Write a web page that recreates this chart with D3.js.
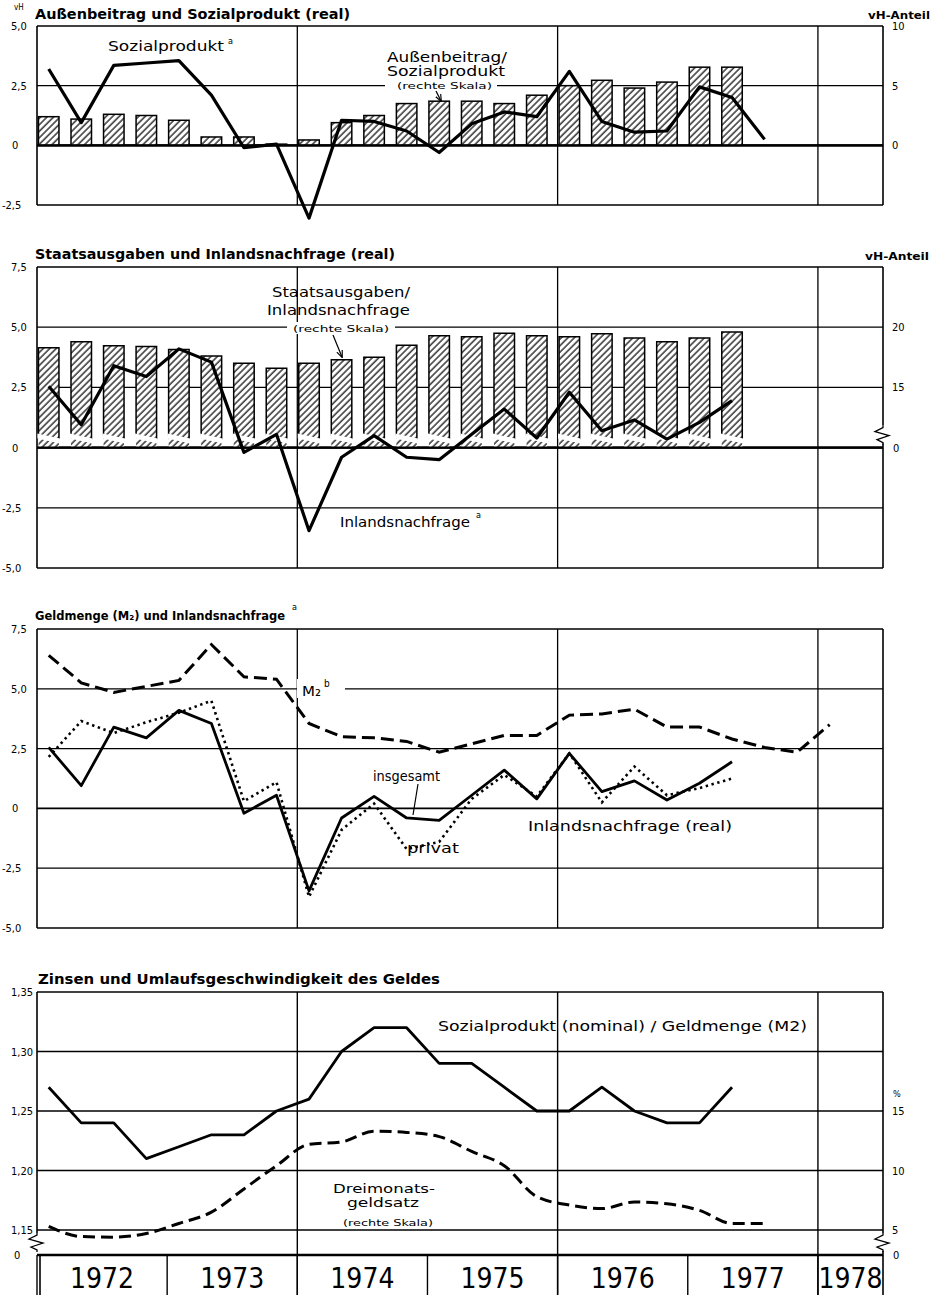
<!DOCTYPE html>
<html><head><meta charset="utf-8">
<script src="https://cdn.jsdelivr.net/npm/d3@7"></script>
<style>body{margin:0;background:#fff}svg{display:block}</style>
</head><body><svg id="c" width="934" height="1295"></svg>
<script>
// ---------- DATA ----------
const quarters = ["1972 I","1972 II","1972 III","1972 IV","1973 I","1973 II","1973 III","1973 IV",
  "1974 I","1974 II","1974 III","1974 IV","1975 I","1975 II","1975 III","1975 IV",
  "1976 I","1976 II","1976 III","1976 IV","1977 I","1977 II","1977 III","1977 IV","1978 I"];
const years = ["1972","1973","1974","1975","1976","1977","1978"];

// Panel 1: Außenbeitrag / Sozialprodukt (vH-Anteil, right scale) and Sozialprodukt (real, vH)
const aussenbeitragAnteil = [2.4,2.2,2.6,2.5,2.1,0.7,0.7,0.1,0.45,1.9,2.5,3.5,3.7,3.7,3.5,4.2,5.0,5.45,4.8,5.3,6.55,6.55];
const sozialprodukt = [3.2,0.95,3.35,3.45,3.55,2.1,-0.1,0.05,-3.05,1.05,1.0,0.6,-0.3,0.9,1.4,1.2,3.1,1.0,0.55,0.6,2.45,2.0,0.25];

// Panel 2: Staatsausgaben / Inlandsnachfrage (vH-Anteil) and Inlandsnachfrage (real, vH)
const staatsAnteil = [18.3,18.8,18.45,18.4,18.15,17.6,17.0,16.6,17.0,17.3,17.5,18.5,19.3,19.2,19.5,19.3,19.2,19.45,19.1,18.8,19.1,19.6];
const inlandsnachfrage = [2.55,0.95,3.4,2.95,4.1,3.55,-0.2,0.55,-3.45,-0.4,0.5,-0.4,-0.5,0.55,1.6,0.4,2.3,0.7,1.15,0.35,1.05,1.95];

// Panel 3: Geldmenge M2 and private Inlandsnachfrage
const privat = [2.15,3.65,3.15,3.6,4.0,4.5,0.3,1.1,-3.7,-0.9,0.2,-1.7,-1.4,0.4,1.4,0.5,2.3,0.25,1.75,0.55,0.85,1.25];
const geldmengeM2 = [6.4,5.25,4.85,5.1,5.35,6.85,5.5,5.4,3.55,3.0,2.95,2.8,2.35,2.7,3.05,3.05,3.9,3.95,4.15,3.4,3.4,2.9,2.55,2.35,3.5];

// Panel 4: Umlaufsgeschwindigkeit and Dreimonatsgeldsatz (%)
const umlauf = [1.27,1.24,1.24,1.21,1.22,1.23,1.23,1.25,1.26,1.30,1.32,1.32,1.29,1.29,1.27,1.25,1.25,1.27,1.25,1.24,1.24,1.27];
const geldsatz = [5.3,4.45,4.4,4.7,5.55,6.5,8.45,10.4,12.2,12.4,13.3,13.2,12.85,11.6,10.4,7.8,7.1,6.8,7.35,7.2,6.65,5.55,5.55];

// tick values
const ticksP1L = [5.0,2.5,0,-2.5], ticksP1R = [10,5,0];
const ticksP2L = [7.5,5.0,2.5,0,-2.5,-5.0], ticksP2R = [20,15];
const ticksP3L = [7.5,5.0,2.5,0,-2.5,-5.0];
const ticksP4L = [1.35,1.30,1.25,1.20,1.15], ticksP4R = [15,10,5];
const gridYears = [1974,1976,1978];

// ---------- SETUP ----------
const svg = d3.select("#c");
const FONT = "'DejaVu Sans Condensed','DejaVu Sans',sans-serif";
const YFONT = "'Liberation Sans Narrow','DejaVu Sans Condensed',sans-serif";
svg.append("rect").attr("width",934).attr("height",1295).attr("fill","#fff");

const defs = svg.append("defs");
const pat = defs.append("pattern").attr("id","hatch").attr("width",4.6).attr("height",4.6)
  .attr("patternUnits","userSpaceOnUse").attr("patternTransform","rotate(45)");
pat.append("rect").attr("width",4.6).attr("height",4.6).attr("fill","#fff");
pat.append("line").attr("x1",1).attr("y1",0).attr("x2",1).attr("y2",4.6).attr("stroke","#000").attr("stroke-width",1.2);
const mk = defs.append("marker").attr("id","arr").attr("viewBox","0 0 10 10").attr("refX",9).attr("refY",5)
  .attr("markerWidth",6).attr("markerHeight",6).attr("orient","auto");
mk.append("path").attr("d","M0,1 L10,5 L0,9").attr("fill","none").attr("stroke","#000").attr("stroke-width",1.6);

const x = d3.scaleLinear().domain([1972, 1978.5]).range([37, 883]);
const roman = {"I":0,"II":1,"III":2,"IV":3};
const qPos = lab => { const [yy, q] = lab.split(" "); return +yy + roman[q]*0.25 + 0.09; };
const X0 = x(1972), X1 = x(1978.5);
const fmt1 = d => d === 0 ? "0" : d3.format(".1f")(d).replace(".", ",").replace("\u2212","-");
const fmt2 = d => d3.format(".2f")(d).replace(".", ",");

function txt(g, str, px, py, o = {}) {
  const t = g.append("text").attr("x", px).attr("y", py)
    .attr("font-family", o.family || FONT).attr("font-size", o.size || 12)
    .attr("font-weight", o.weight || "normal").attr("text-anchor", o.anchor || "start")
    .attr("fill", "#000").text(str);
  if (o.len) t.attr("textLength", o.len).attr("lengthAdjust", "spacingAndGlyphs");
  return t;
}
function hline(g, yv, w, xa = X0, xb = X1) {
  g.append("line").attr("x1", xa).attr("x2", xb).attr("y1", yv).attr("y2", yv)
    .attr("stroke", "#000").attr("stroke-width", w);
}
function vline(g, xv, ya, yb, w) {
  g.append("line").attr("x1", xv).attr("x2", xv).attr("y1", ya).attr("y2", yb)
    .attr("stroke", "#000").attr("stroke-width", w);
}
function leftLabels(g, ticks, y, f) {
  ticks.forEach(t => {
    const s = f(t);
    txt(g, s, s.startsWith("-") ? 2 : (s === "0" ? 12 : 11), y(t) + 4, {size: 11});
  });
}
function rightLabels(g, ticks, y) {
  ticks.forEach(t => txt(g, String(t), 892, y(t) + 4, {size: 11}));
}
function zigzag(g, cx, cy) {
  g.append("path").attr("d", `M${cx},${cy-9} L${cx},${cy-7} L${cx-8},${cy-3} L${cx+6},${cy+1} L${cx-6},${cy+5} L${cx},${cy+8} L${cx},${cy+10}`)
    .attr("fill","none").attr("stroke","#000").attr("stroke-width",1.3);
}
const BW = 20.5;

// ================= PANEL 1 =================
{
  const g = svg.append("g");
  const top = 26, bot = 205;
  const yL = d3.scaleLinear().domain([-2.5, 5]).range([bot, top]);
  const yR = d3.scaleLinear().domain([0, 10]).range([yL(0), yL(5)]);
  ticksP1L.forEach(t => hline(g, yL(t), t === 0 ? 2.2 : 1.3));
  gridYears.forEach(yr => vline(g, x(yr), top, bot, 1.3));
  vline(g, X0, top, bot, 1.6); vline(g, X1, top, bot, 1.6);
  g.selectAll("rect.bar").data(aussenbeitragAnteil).join("rect").attr("class","bar")
    .attr("x", (d,i) => x(qPos(quarters[i])) - BW/2).attr("width", BW)
    .attr("y", d => yR(d)).attr("height", d => yR(0) - yR(d))
    .attr("fill","url(#hatch)").attr("stroke","#000").attr("stroke-width",1.5);
  hline(g, yL(0), 2.2);
  g.append("path").datum(sozialprodukt)
    .attr("d", d3.line().x((d,i) => x(qPos(quarters[i]))).y(d => yL(d)))
    .attr("fill","none").attr("stroke","#000").attr("stroke-width",3.2).attr("stroke-linejoin","round");
  leftLabels(g, ticksP1L, yL, fmt1);
  rightLabels(g, ticksP1R, yR);
  txt(g, "vH", 14, 10, {size: 8});
  txt(g, "Außenbeitrag und Sozialprodukt (real)", 35, 19, {size: 14, weight: "bold", len: 315});
  txt(g, "vH-Anteil", 868, 19, {size: 10, weight: "bold", len: 62});
  txt(g, "Sozialprodukt", 108, 51, {size: 14, len: 116});
  txt(g, "a", 228, 44, {size: 9});
  txt(g, "Außenbeitrag/", 387, 62, {size: 14, len: 120});
  txt(g, "Sozialprodukt", 387, 76, {size: 14, len: 118});
  g.append("rect").attr("x", 385).attr("y", 81).attr("width", 112).attr("height", 10).attr("fill","#fff");
  txt(g, "(rechte Skala)", 397, 89, {size: 9, len: 95});
  g.append("line").attr("x1", 436).attr("y1", 91).attr("x2", 441).attr("y2", 101)
    .attr("stroke","#000").attr("stroke-width",1.2).attr("marker-end","url(#arr)");
}

// ================= PANEL 2 =================
{
  const g = svg.append("g");
  const top = 267, bot = 568;
  const yL = d3.scaleLinear().domain([-5, 7.5]).range([bot, top]);
  const yR = d3.scaleLinear().domain([15, 20]).range([yL(2.5), yL(5)]);
  const base = yL(0);
  ticksP2L.forEach(t => hline(g, yL(t), t === 0 ? 2.2 : 1.3));
  gridYears.forEach(yr => vline(g, x(yr), top, bot, 1.3));
  vline(g, X0, top, bot, 1.6);
  vline(g, X1, top, base - 22, 1.6); vline(g, X1, base - 4, bot, 1.6);
  zigzag(g, X1, base - 13);
  const bars = g.selectAll("g.bar").data(staatsAnteil).join("g").attr("class","bar");
  bars.append("rect")
    .attr("x", (d,i) => x(qPos(quarters[i])) - BW/2).attr("width", BW)
    .attr("y", d => yR(d)).attr("height", d => base - yR(d))
    .attr("fill","url(#hatch)");
  bars.append("path")
    .attr("d", (d,i) => { const cx = x(qPos(quarters[i])); return `M${cx-BW/2},${base-12} L${cx-BW/2},${yR(d)} L${cx+BW/2},${yR(d)} L${cx+BW/2},${base-8}`; })
    .attr("fill","none").attr("stroke","#000").attr("stroke-width",1.5);
  bars.append("path")
    .attr("d", (d,i) => { const cx = x(qPos(quarters[i])); return `M${cx-BW/2-1},${base-14} L${cx+BW/2+1},${base-9} L${cx+BW/2+1},${base-4} L${cx-BW/2-1},${base-9}Z`; })
    .attr("fill","#fff");
  hline(g, base, 2.2);
  g.append("path").datum(inlandsnachfrage)
    .attr("d", d3.line().x((d,i) => x(qPos(quarters[i]))).y(d => yL(d)))
    .attr("fill","none").attr("stroke","#000").attr("stroke-width",3.2).attr("stroke-linejoin","round");
  leftLabels(g, ticksP2L, yL, fmt1);
  rightLabels(g, ticksP2R, yR);
  txt(g, "0", 893, base + 4, {size: 11});
  txt(g, "Staatsausgaben und Inlandsnachfrage (real)", 35, 259, {size: 14, weight: "bold", len: 360});
  txt(g, "vH-Anteil", 865, 260, {size: 10, weight: "bold", len: 64});
  txt(g, "Staatsausgaben/", 272, 297, {size: 14, len: 138});
  txt(g, "Inlandsnachfrage", 267, 315, {size: 14, len: 143});
  g.append("rect").attr("x", 287).attr("y", 322).attr("width", 108).attr("height", 12).attr("fill","#fff");
  txt(g, "(rechte Skala)", 293, 332, {size: 9, len: 96});
  g.append("line").attr("x1", 333).attr("y1", 335).attr("x2", 342).attr("y2", 357)
    .attr("stroke","#000").attr("stroke-width",1.2).attr("marker-end","url(#arr)");
  txt(g, "Inlandsnachfrage", 340, 527, {size: 14, len: 130});
  txt(g, "a", 476, 518, {size: 9});
}

// ================= PANEL 3 =================
{
  const g = svg.append("g");
  const top = 629, bot = 928;
  const yL = d3.scaleLinear().domain([-5, 7.5]).range([bot, top]);
  ticksP3L.forEach(t => hline(g, yL(t), t === 0 ? 1.8 : 1.3));
  gridYears.forEach(yr => vline(g, x(yr), top, bot, 1.3));
  vline(g, X0, top, bot, 1.6); vline(g, X1, top, bot, 1.6);
  const ln = d3.line().x((d,i) => x(qPos(quarters[i]))).y(d => yL(d));
  g.append("rect").attr("x", 297).attr("y", 679).attr("width", 48).attr("height", 19).attr("fill","#fff");
  g.append("path").datum(geldmengeM2).attr("d", ln)
    .attr("fill","none").attr("stroke","#000").attr("stroke-width",3).attr("stroke-dasharray","13,6");
  g.append("path").datum(privat).attr("d", ln)
    .attr("fill","none").attr("stroke","#000").attr("stroke-width",2.6).attr("stroke-dasharray","2.4,3.6");
  g.append("path").datum(inlandsnachfrage).attr("d", ln)
    .attr("fill","none").attr("stroke","#000").attr("stroke-width",2.8).attr("stroke-linejoin","round");
  leftLabels(g, ticksP3L, yL, fmt1);
  txt(g, "Geldmenge (M\u2082) und Inlandsnachfrage", 35, 620, {size: 13, weight: "bold", len: 250});
  txt(g, "a", 292, 610, {size: 9});
  txt(g, "M\u2082", 302, 696, {size: 14, len: 19});
  txt(g, "b", 324, 687, {size: 10});
  txt(g, "insgesamt", 373, 781, {size: 14, len: 67});
  g.append("line").attr("x1", 418).attr("y1", 784).attr("x2", 413).attr("y2", 815).attr("stroke","#000").attr("stroke-width",1.2);
  txt(g, "privat", 407, 853, {size: 14, len: 52});
  txt(g, "Inlandsnachfrage (real)", 528, 831, {size: 14, len: 204});
}

// ================= PANEL 4 =================
{
  const g = svg.append("g");
  const top = 992, zero = 1255, bottom = 1295;
  const yL = d3.scaleLinear().domain([1.15, 1.35]).range([1230, top]);
  const yR = d3.scaleLinear().domain([5, 15]).range([1230, yL(1.25)]);
  ticksP4L.forEach(t => hline(g, yL(t), 1.3));
  hline(g, zero, 2.6);
  gridYears.forEach(yr => vline(g, x(yr), top, bottom, 1.4));
  vline(g, X0, top, 1233, 1.6); vline(g, X0 + 3, zero, bottom, 1.6);
  zigzag(g, X0, 1242);
  vline(g, X1, top, 1233, 1.6); vline(g, X1, 1251, bottom, 1.6);
  zigzag(g, X1, 1242);
  years.forEach(yy => vline(g, x(+yy), zero, bottom, 1.4));
  years.forEach(yy => {
    const c = Math.min(x(+yy + 0.5), (x(+yy) + X1) / 2);
    txt(g, yy, c, 1288, {size: 28, family: YFONT, anchor: "middle"});
  });
  const lnL = d3.line().x((d,i) => x(qPos(quarters[i]))).y(d => yL(d));
  const lnR = d3.line().x((d,i) => x(qPos(quarters[i]))).y(d => yR(d)).curve(d3.curveMonotoneX);
  g.append("path").datum(geldsatz).attr("d", lnR)
    .attr("fill","none").attr("stroke","#000").attr("stroke-width",3).attr("stroke-dasharray","12,6");
  g.append("path").datum(umlauf).attr("d", lnL)
    .attr("fill","none").attr("stroke","#000").attr("stroke-width",2.8).attr("stroke-linejoin","round");
  leftLabels(g, ticksP4L, yL, fmt2);
  txt(g, "0", 14, zero + 4, {size: 11});
  rightLabels(g, ticksP4R, yR);
  txt(g, "0", 893, zero + 4, {size: 11});
  txt(g, "%", 893, 1097, {size: 9});
  txt(g, "Zinsen und Umlaufsgeschwindigkeit des Geldes", 38, 984, {size: 14, weight: "bold", len: 402});
  txt(g, "Sozialprodukt (nominal) / Geldmenge (M2)", 438, 1031, {size: 14, len: 369});
  txt(g, "Dreimonats-", 384, 1193, {size: 13, anchor: "middle", len: 102});
  txt(g, "geldsatz", 383, 1207, {size: 13, anchor: "middle", len: 72});
  txt(g, "(rechte Skala)", 388, 1226, {size: 9, anchor: "middle", len: 90});
}
</script></body></html>
